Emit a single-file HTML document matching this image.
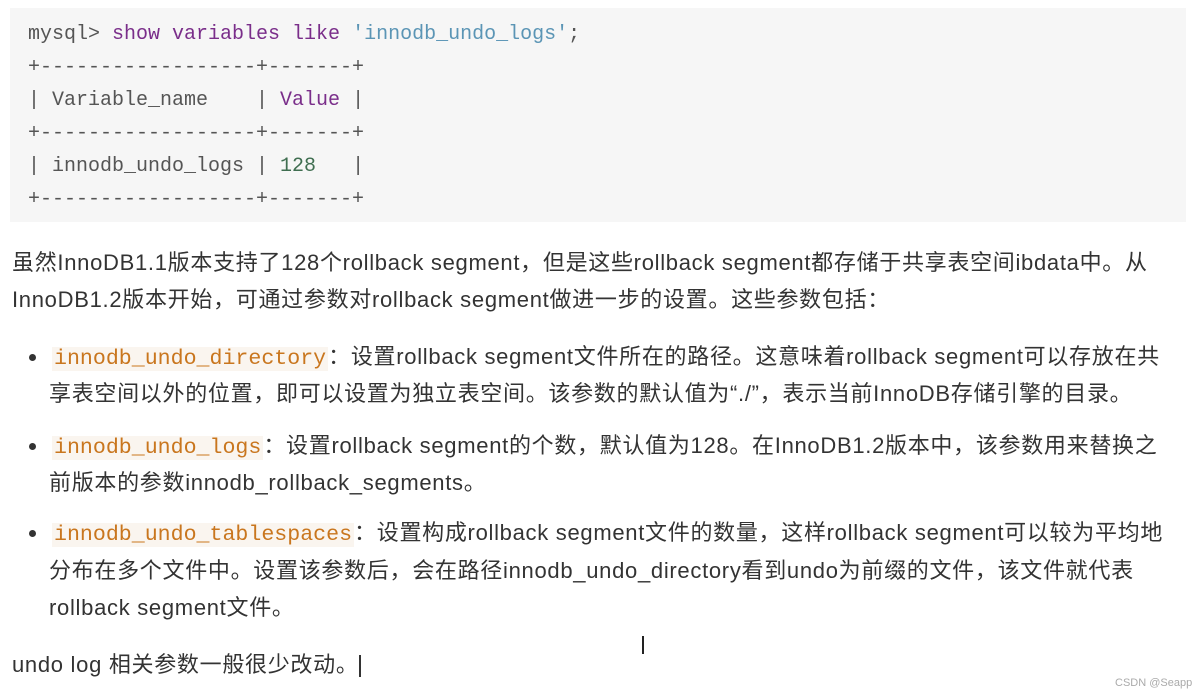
<!DOCTYPE html>
<html><head><meta charset="utf-8"><style>
html,body{margin:0;padding:0;background:#fff;width:1200px;height:699px;overflow:hidden;position:relative}
.code{position:absolute;left:10px;top:8px;width:1176px;height:214px;background:#f6f6f6}
.m{position:absolute;left:28px;font-family:"Liberation Mono",monospace;font-size:20px;color:#555;white-space:pre;line-height:24px}
.kw{color:#7a2e8a}.str{color:#5b95b5}.num{color:#3f6e50}
.t{position:absolute;font-family:"Liberation Sans","Noto Sans CJK SC",sans-serif;font-size:22px;letter-spacing:0.7px;color:#333;white-space:nowrap;line-height:26px}
.c{font-family:"Liberation Mono",monospace;font-size:21.6px;letter-spacing:0;color:#c9761e;background:#faf5ef;padding:0 2px}
.dot{position:absolute;left:29px;width:7px;height:7px;border-radius:50%;background:#333}
</style></head><body>
<div class="code"></div>
<div class="m" style="top:23px">mysql&gt; <span class="kw">show variables like</span> <span class="str">'innodb_undo_logs'</span>;</div>
<div class="m" style="top:56px">+------------------+-------+</div>
<div class="m" style="top:89px">| Variable_name    | <span class="kw">Value</span> |</div>
<div class="m" style="top:122px">+------------------+-------+</div>
<div class="m" style="top:155px">| innodb_undo_logs | <span class="num">128</span>   |</div>
<div class="m" style="top:188px">+------------------+-------+</div>

<div class="t" style="left:12px;top:250px">虽然InnoDB1.1版本支持了128个rollback segment，但是这些rollback segment都存储于共享表空间ibdata中。从</div>
<div class="t" style="left:12px;top:287px">InnoDB1.2版本开始，可通过参数对rollback segment做进一步的设置。这些参数包括：</div>

<div class="dot" style="top:354px"></div>
<div class="t" style="left:52px;top:344px"><span class="c">innodb_undo_directory</span>：设置rollback segment文件所在的路径。这意味着rollback segment可以存放在共</div>
<div class="t" style="left:49px;top:381px">享表空间以外的位置，即可以设置为独立表空间。该参数的默认值为“./”，表示当前InnoDB存储引擎的目录。</div>

<div class="dot" style="top:443px"></div>
<div class="t" style="left:52px;top:433px"><span class="c">innodb_undo_logs</span>：设置rollback segment的个数，默认值为128。在InnoDB1.2版本中，该参数用来替换之</div>
<div class="t" style="left:49px;top:470px">前版本的参数innodb_rollback_segments。</div>

<div class="dot" style="top:530px"></div>
<div class="t" style="left:52px;top:520px"><span class="c">innodb_undo_tablespaces</span>：设置构成rollback segment文件的数量，这样rollback segment可以较为平均地</div>
<div class="t" style="left:49px;top:558px">分布在多个文件中。设置该参数后，会在路径innodb_undo_directory看到undo为前缀的文件，该文件就代表</div>
<div class="t" style="left:49px;top:595px">rollback segment文件。</div>

<div class="t" style="left:12px;top:652px">undo log 相关参数一般很少改动。<span style="display:inline-block;width:2px;height:22px;background:#333;vertical-align:middle"></span></div>
<div style="position:absolute;left:642px;top:636px;width:3px;height:18px;border-left:2px solid #222"></div>
<div class="t" style="left:1115px;top:676px;font-size:11px;letter-spacing:0;color:#aaa;line-height:14px">CSDN @Seapp</div>
</body></html>
